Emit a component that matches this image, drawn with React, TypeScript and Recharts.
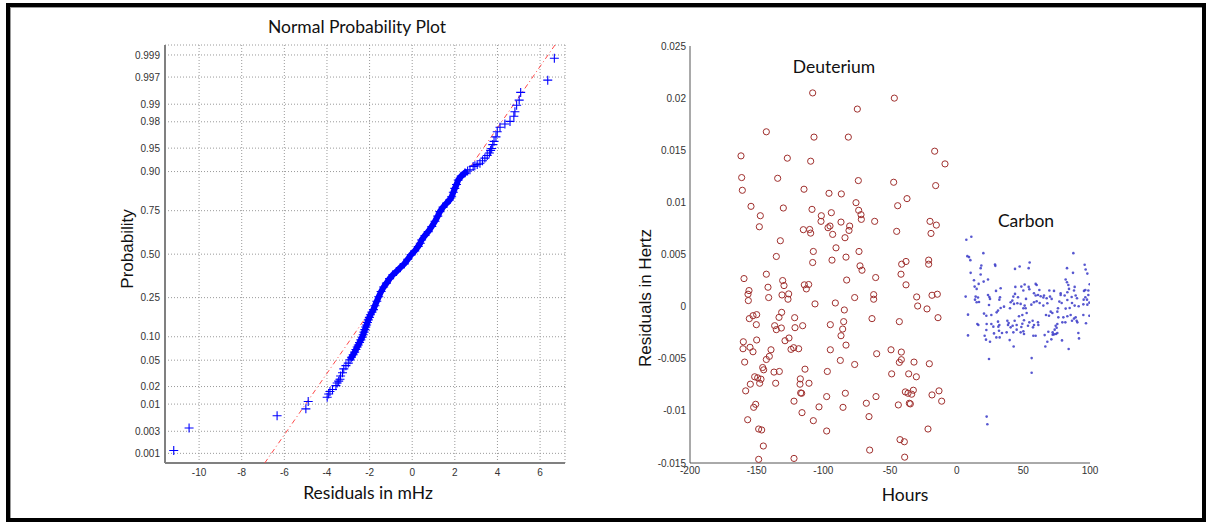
import React from 'react';
import { ScatterChart, Scatter, XAxis, YAxis, CartesianGrid } from 'recharts';

// ---------- Normal probability plot (carbon residuals, mHz) ----------
const probLabels = ['0.001', '0.003', '0.01', '0.02', '0.05', '0.10', '0.25', '0.50', '0.75', '0.90', '0.95', '0.98', '0.99', '0.997', '0.999'];
const residualTicks = [-10, -8, -6, -4, -2, 0, 2, 4, 6];

// [residual mHz, normal score]
const normLowTail: [number, number][] = [
  [-11.19, -3.045], [-10.47, -2.698], [-6.34, -2.507], [-4.99, -2.40], [-4.88, -2.285],
  [-3.99, -2.22], [-3.92, -2.17], [-3.86, -2.13], [-3.74, -2.10], [-3.58, -2.04], [-3.52, -2.0],
  [-3.45, -1.97], [-3.39, -1.94], [-3.36, -1.89], [-3.27, -1.84], [-3.21, -1.78], [-3.11, -1.73], [-3.0, -1.69],
];
const normBand: [number, number][] = [
  [-2.92, -1.64], [-2.85, -1.60], [-2.77, -1.56], [-2.70, -1.52], [-2.64, -1.48], [-2.58, -1.44], [-2.53, -1.41],
  [-2.47, -1.37], [-2.41, -1.33], [-2.35, -1.29], [-2.30, -1.25], [-2.26, -1.21], [-2.22, -1.17], [-2.18, -1.13],
  [-2.14, -1.10], [-2.10, -1.06], [-2.06, -1.02], [-2.01, -0.98], [-1.96, -0.94], [-1.89, -0.90], [-1.82, -0.86],
  [-1.75, -0.80], [-1.66, -0.73], [-1.57, -0.66], [-1.46, -0.58], [-1.34, -0.51], [-1.21, -0.45], [-1.06, -0.38],
  [-0.91, -0.32], [-0.74, -0.27], [-0.56, -0.21], [-0.37, -0.15], [-0.21, -0.08], [-0.05, -0.01],
  [0.12, 0.05], [0.28, 0.12], [0.38, 0.17], [0.44, 0.22], [0.60, 0.29], [0.75, 0.35], [0.92, 0.43], [1.07, 0.51],
  [1.20, 0.59], [1.30, 0.66], [1.45, 0.73], [1.61, 0.79], [1.75, 0.84], [1.85, 0.89], [1.93, 0.96], [2.00, 1.02],
  [2.08, 1.08], [2.16, 1.15], [2.30, 1.21], [2.47, 1.26], [2.60, 1.29],
];
const normHighTail: [number, number][] = [
  [2.71, 1.31], [2.86, 1.36], [2.94, 1.37], [3.05, 1.39], [3.18, 1.41], [3.30, 1.45], [3.41, 1.49], [3.52, 1.53],
  [3.62, 1.57], [3.68, 1.61], [3.73, 1.64], [3.78, 1.70], [3.84, 1.75], [3.93, 1.82], [3.99, 1.90], [4.12, 1.97],
  [4.35, 2.02], [4.59, 2.06], [4.77, 2.14], [4.82, 2.21], [4.90, 2.31], [5.02, 2.39], [5.09, 2.51], [6.36, 2.70], [6.67, 3.04],
];
const fitLineEnds: [number, number][] = [[-6.92, -3.24], [6.70, 3.245]];

// ---------- Residuals vs time ----------
const hourTicks = [-200, -150, -100, -50, 0, 50, 100];
const hertzTicks = [-0.015, -0.01, -0.005, 0, 0.005, 0.01, 0.015, 0.02, 0.025];

// [hours, residual Hz]
const deuterium: [number, number][] = [
  [-108, 0.0205], [-46.75, 0.02], [-74.5, 0.01895], [-142.75, 0.01677], [-107, 0.01626], [-81.25, 0.01626],
  [-161.75, 0.01446], [-16.5, 0.01491], [-127, 0.01424], [-109.5, 0.01395], [-8.75, 0.01369], [-161.25, 0.01238],
  [-134.25, 0.01231], [-73.75, 0.01209], [-47.25, 0.01193], [-15.75, 0.01161], [-160.75, 0.01116], [-114.5, 0.01126],
  [-95.75, 0.01087], [-86.5, 0.01081], [-37.25, 0.01036], [-75.5, 0.00997], [-154.25, 0.00962], [-130, 0.00946],
  [-44.25, 0.00968], [-108.5, 0.00933], [-73.5, 0.00924], [-94, 0.00901], [-147.25, 0.00872], [-101.5, 0.00872],
  [-71.75, 0.00882], [-71.5, 0.00837], [-101.75, 0.00818], [-61.5, 0.00818], [-20, 0.00818], [-86.75, 0.00811],
  [-148, 0.00766], [-95, 0.00773], [-96.5, 0.00757], [-80.25, 0.00773], [-15.25, 0.00782], [-115, 0.00738],
  [-110.25, 0.0074], [-109.5, 0.00705], [-80.75, 0.00731], [-45, 0.00722], [-93, 0.00693], [-19.25, 0.00702],
  [-83.75, 0.00661], [-132.25, 0.00632], [-90.5, 0.00564], [-107.5, 0.00529], [-73.25, 0.00529], [-135.25, 0.00481],
  [-83, 0.00475], [-108, 0.00423], [-93.5, 0.00446], [-38, 0.00433], [-21, 0.00446], [-41.25, 0.00407], [-21, 0.00407],
  [-72.5, 0.00391], [-71, 0.00349], [-41.75, 0.00311], [-142.75, 0.00311], [-159.5, 0.00269], [-130.5, 0.0025],
  [-82.5, 0.00255], [-60.75, 0.00279],
  [-129.5, 0.00202], [-141.5, 0.00186], [-111, 0.00212], [-114.25, 0.00209], [-112.75, 0.0017], [-155.75, 0.00154],
  [-156.5, 0.00119], [-131, 0.00112], [-126, 0.00122], [-141, 0.00087], [-126.5, 0.00071], [-62.25, 0.00115],
  [-62.25, 0.00071], [-38, 0.00209], [-76.5, 0.00087], [-30, 0.00093], [-18.5, 0.00109], [-14.5, 0.00119],
  [-156.25, 0.00058], [-106.25, 0.00026], [-91, 0.00035], [-29.25, 0.00006], [-84.25, -0.00032], [-22.25, -0.00022],
  [-131.25, -0.00055], [-155.5, -0.00115], [-152.75, -0.00087], [-150, -0.00077], [-133.25, -0.00103], [-121.5, -0.00106],
  [-14, -0.00106], [-150.25, -0.00173], [-136.5, -0.00183], [-131.5, -0.00205], [-135.25, -0.00221], [-121.25, -0.00202],
  [-115.5, -0.00183], [-94.75, -0.00173], [-84.75, -0.00144], [-85.5, -0.00215], [-63.5, -0.00115], [-43, -0.00144],
  [-86.75, -0.00279], [-125.75, -0.00301], [-128.75, -0.00327], [-160, -0.00337], [-150, -0.0032], [-160.25, -0.00404],
  [-155, -0.0039], [-152.75, -0.00433], [-139.25, -0.00414], [-124.25, -0.0041], [-122.25, -0.00394], [-118.5, -0.00404],
  [-94.75, -0.00414], [-83, -0.00369], [-49.25, -0.00414], [-41.5, -0.00436], [-60, -0.00452], [-142.75, -0.00507],
  [-140.5, -0.00477], [-159, -0.00532], [-87.25, -0.00516], [-43, -0.00535], [-41.5, -0.00509], [-32, -0.00532],
  [-20.5, -0.00548], [-145.5, -0.00584], [-144.75, -0.00606], [-137, -0.00628], [-133, -0.00622], [-113.75, -0.006],
  [-76.5, -0.00555], [-97, -0.00622], [-151.5, -0.00673], [-149.25, -0.00683], [-146.75, -0.00696], [-154.75, -0.00744],
  [-147.75, -0.00735], [-135.75, -0.00735], [-117.25, -0.00693], [-117.5, -0.00744], [-110.75, -0.00735],
  [-48.75, -0.00645], [-36, -0.00645], [-30.25, -0.00673], [-158.25, -0.00808], [-117, -0.00828], [-116.25, -0.00831],
  [-97.5, -0.00863], [-83.5, -0.00831], [-60.5, -0.00863], [-38.5, -0.00818], [-36.5, -0.00831], [-32.5, -0.00802],
  [-33.75, -0.0084], [-18.5, -0.00847], [-13.25, -0.00808], [-11.25, -0.00907], [-150.75, -0.00937], [-152.25, -0.00966],
  [-122, -0.00907], [-103.25, -0.00962], [-85.25, -0.00966], [-67.75, -0.00927], [-43.75, -0.00943], [-35.5, -0.00927],
  [-34.75, -0.00933], [-116, -0.01017], [-65.75, -0.01055], [-156.75, -0.01085], [-107.5, -0.01094], [-148.5, -0.01174],
  [-146.25, -0.01183], [-97.5, -0.01193], [-21.5, -0.01174], [-145, -0.01337], [-42.5, -0.01276], [-39.25, -0.01296],
  [-65.25, -0.01376], [-148.5, -0.01465], [-122, -0.01456], [-39, -0.01444],
];

const carbon: [number, number][] = [
  [7.25, 0.00641], [11, 0.0067], [20, 0.00513], [8, 0.00484], [9.25, 0.00475], [10.25, 0.00446], [18.5, 0.00394],
  [18, 0.00369], [28.75, 0.00404], [29, 0.00391], [10.5, 0.00324], [18, 0.00308], [43.75, 0.00362], [47.25, 0.00385],
  [54, 0.00369], [54.75, 0.00423], [87.5, 0.00513], [82.75, 0.00369], [87.25, 0.00324], [96, 0.00401], [96.75, 0.00356],
  [98, 0.00317], [13, 0.00253], [16.5, 0.00218], [20.25, 0.0024], [23.5, 0.0026], [13.5, 0.00192], [15, 0.0017],
  [6.75, 0.00096], [14.25, 0.00096], [16, 0.00087], [13.75, 0.00067], [15, 0.00042], [16.75, 0.00045], [23.5, 0.00112],
  [24.5, 0.00093], [25, 0.00074], [29.5, 0.00151], [33, 0.00176], [32.5, 0.0009], [32, 0.00067], [44, 0.00189],
  [48.5, 0.00192], [51, 0.00212], [54, 0.00189], [54.5, 0.00167], [50, 0.00154], [59.25, 0.00218], [60, 0.00208],
  [62, 0.0016], [69.5, 0.00154], [73, 0.00151], [78, 0.00128], [81.75, 0.0026], [82.75, 0.00234], [83.75, 0.00208],
  [84.25, 0.0017], [88.5, 0.00189], [83, 0.00138], [81, 0.00106], [78, 0.00112], [77, 0.00048], [78.75, 0.00035],
  [83, 0.00064], [86.25, 0.00093], [89.25, 0.00106], [88, 0.00154], [90.25, 0.0008], [95.5, 0.00151], [96.5, 0.0016],
  [99.75, 0.00215], [98.75, 0.00154], [98.75, 0.00112], [96.5, 0.0009], [95.25, 0.00067], [97.75, 0.00067],
  [99.5, 0.00038], [98, 0.00019], [95, 0.00022], [91.5, 0.00003], [86.5, 0.00035], [88.5, 0.0001], [84.75, -0.00013],
  [81.75, -0.00019], [58, 0.00128], [59.25, 0.00106], [61, 0.00112], [63, 0.00099], [65.5, 0.00106], [65, 0.00087],
  [67.5, 0.0008], [70, 0.00096], [71.25, 0.00074], [68, 0.00032], [65, 0.0001], [62.25, 0.00035], [60, 0.00051],
  [58, 0.00042], [56, 0.00019], [52, 0.00074], [51, 0.0001], [51.75, -0.00016], [50, -0.00016], [48, 0.00026],
  [45.5, 0.00032], [43, 0.00026], [41.75, 0.00058], [40.5, 0.00042], [42.5, 0.00096], [46, 0.0009], [43.75, 0.00122],
  [40, -0.00016], [35.5, 0], [33, -0.00013], [31, -0.00038], [30, -0.00055], [26, -0.0008], [22.25, -0.00087],
  [20.5, -0.00067], [8.5, -0.00077], [24.25, 0.00016], [15.5, -0.00167], [16.25, -0.00176], [22.5, -0.00167],
  [26, -0.00167], [31, -0.00144], [32, -0.00176], [31.25, -0.00192], [38, -0.00135], [38.5, -0.00176], [39, -0.00157],
  [40.5, -0.00199], [42, -0.00183], [45, -0.00176], [43.5, -0.00135], [46.75, -0.00093], [49.25, -0.0008],
  [52.5, -0.00061], [50.5, -0.00131], [49.25, -0.00164], [48.5, -0.00196], [50, -0.00237], [54.5, -0.00151],
  [57, -0.00135], [58, -0.00176], [61.25, -0.00176], [61, -0.00151], [57.25, -0.00199], [67, -0.0008], [69.25, -0.00087],
  [70.5, -0.00048], [71.75, -0.00061], [76.25, -0.00103], [76, -0.00016], [75.5, -0.00048], [75.5, -0.00167],
  [74.25, -0.00183], [75, -0.00202], [73.5, -0.00221], [72, -0.00247], [72, -0.00269], [73, -0.00266], [74.5, -0.00263],
  [75.5, -0.00253], [79.25, -0.00151], [81.5, -0.00151], [80, -0.00103], [83, -0.00093], [85.5, -0.0008],
  [86.5, -0.00135], [88, -0.00115], [90, -0.00135], [90.5, -0.00151], [89.25, -0.00103], [95, -0.0008], [97, -0.0016],
  [99.5, -0.00087], [91.25, -0.00253], [91.75, -0.00305], [84, -0.00407], [79, -0.00324], [71, -0.00314], [68, -0.00337],
  [66.5, -0.00382], [66, -0.00273], [68.75, -0.00241], [59.25, -0.00279], [57.5, -0.00279], [53.5, -0.00183],
  [50.5, -0.00263], [48, -0.00247], [45, -0.00221], [42.5, -0.00247], [37.5, -0.00247], [34, -0.00253], [31.75, -0.00231],
  [32.25, -0.00295], [29.75, -0.00295], [28, -0.00257], [27.5, -0.00192], [25, -0.00337], [22.25, -0.00224], [21, -0.00279],
  [22, -0.00317], [8.5, -0.00276], [39.75, -0.00321], [42.75, -0.00382], [56.25, -0.00494], [56.25, -0.00635],
  [24.25, -0.00503], [22.5, -0.01055], [23, -0.01129],
];

// inverse standard normal CDF (Acklam) – used for the probability axis scale
function invNorm(p: number): number {
  const a = [-39.69683028665376, 220.9460984245205, -275.9285104469687, 138.357751867269, -30.66479806614716, 2.506628277459239];
  const b = [-54.47609879822406, 161.5858368580409, -155.6989798598866, 66.80131188771972, -13.28068155288572];
  const c = [-0.007784894002430293, -0.3223964580411365, -2.400758277161838, -2.549732539343734, 4.374664141464968, 2.938163982698783];
  const d = [0.007784695709041462, 0.3224671290700398, 2.445134137142996, 3.754408661907416];
  const pl = 0.02425;
  if (p < pl) {
    const q = Math.sqrt(-2 * Math.log(p));
    return (((((c[0] * q + c[1]) * q + c[2]) * q + c[3]) * q + c[4]) * q + c[5]) / ((((d[0] * q + d[1]) * q + d[2]) * q + d[3]) * q + 1);
  }
  if (p > 1 - pl) {
    const q = Math.sqrt(-2 * Math.log(1 - p));
    return -(((((c[0] * q + c[1]) * q + c[2]) * q + c[3]) * q + c[4]) * q + c[5]) / ((((d[0] * q + d[1]) * q + d[2]) * q + d[3]) * q + 1);
  }
  const q = p - 0.5;
  const r = q * q;
  return (((((a[0] * r + a[1]) * r + a[2]) * r + a[3]) * r + a[4]) * r + a[5]) * q / (((((b[0] * r + b[1]) * r + b[2]) * r + b[3]) * r + b[4]) * r + 1);
}

const probTickValues = probLabels.map((l) => invNorm(parseFloat(l)));
const toXY = (arr: [number, number][]) => arr.map(([x, y]) => ({ x, y }));

const Cross = (props: any) => {
  const { cx, cy } = props;
  if (cx == null || cy == null) return <g />;
  return <path d={`M${cx - 4.5},${cy}h9M${cx},${cy - 4.5}v9`} stroke="#0000ff" strokeWidth={1.1} fill="none" />;
};
const Ring = (props: any) => {
  const { cx, cy } = props;
  if (cx == null || cy == null) return <g />;
  return <circle cx={cx} cy={cy} r={3.1} stroke="#a0302e" strokeWidth={1} fill="none" />;
};
const Dot = (props: any) => {
  const { cx, cy } = props;
  if (cx == null || cy == null) return <g />;
  return <circle cx={cx} cy={cy} r={1.3} fill="#3a3ac8" fillOpacity={0.85} />;
};
const Empty = () => <g />;

const tickFont = { fontSize: 10, fill: '#333', fontFamily: '"Liberation Sans", Arial, sans-serif' };
const labelFont: React.CSSProperties = { position: 'absolute', fontFamily: 'Lato, "Open Sans", sans-serif', fontSize: 17.5, color: '#111', whiteSpace: 'nowrap', lineHeight: '18px', transform: 'translate(-50%, -50%)' };
const rotFont: React.CSSProperties = { position: 'absolute', fontFamily: '"Liberation Sans", Arial, sans-serif', fontSize: 17, color: '#111', whiteSpace: 'nowrap', lineHeight: '17px', transform: 'translate(-50%, -50%) rotate(-90deg)' };

export default function App() {
  return (
    <div style={{ position: 'absolute', left: 0, top: 0, width: 1209, height: 522, background: '#fff', overflow: 'hidden' }}>
      <div style={{ position: 'absolute', left: 6, top: 3, width: 1200, height: 519, border: '4px solid #000', boxSizing: 'border-box', boxShadow: 'inset 1px 1px 0 #999' }} />

      <div style={{ position: 'absolute', left: 0, top: 0 }}>
        <ScatterChart width={600} height={522} margin={{ top: 45, right: 35, bottom: 0, left: 0 }}>
          <CartesianGrid stroke="#9a9a9a" strokeDasharray="1 2" />
          <XAxis type="number" dataKey="x" domain={[-11.6, 7.17]} allowDataOverflow ticks={residualTicks} interval={0}
            height={59} tickLine={false} tickSize={0} tickMargin={6} axisLine={{ stroke: '#808080', strokeWidth: 2 }} tick={tickFont} />
          <YAxis type="number" dataKey="y" domain={[-3.24, 3.245]} allowDataOverflow ticks={probTickValues} interval={0}
            tickFormatter={(_v: number, i: number) => probLabels[i]}
            width={165} tickLine={false} tickSize={0} tickMargin={5} axisLine={{ stroke: '#808080', strokeWidth: 2 }} tick={tickFont} />
          <Scatter data={toXY(fitLineEnds)} line={{ stroke: '#ff4a4a', strokeWidth: 1, strokeDasharray: '5 3 1 3' }} shape={Empty} isAnimationActive={false} />
          <Scatter data={toXY(normBand)} line={{ stroke: '#0000ff', strokeWidth: 6 }} shape={Cross} isAnimationActive={false} />
          <Scatter data={toXY(normLowTail)} shape={Cross} isAnimationActive={false} />
          <Scatter data={toXY(normHighTail)} shape={Cross} isAnimationActive={false} />
        </ScatterChart>
      </div>

      <div style={{ position: 'absolute', left: 600, top: 0 }}>
        <ScatterChart width={609} height={522} margin={{ top: 46, right: 119, bottom: 0, left: 0 }}>
          <XAxis type="number" dataKey="x" domain={[-200, 100]} allowDataOverflow ticks={hourTicks} interval={0}
            height={59} tickLine={false} tickSize={0} tickMargin={4} axisLine={{ stroke: '#555', strokeWidth: 1 }} tick={tickFont} />
          <YAxis type="number" dataKey="y" domain={[-0.015, 0.025]} allowDataOverflow ticks={hertzTicks} interval={0}
            width={90} tickLine={false} tickSize={0} tickMargin={4} axisLine={{ stroke: '#555', strokeWidth: 1 }} tick={tickFont} />
          <Scatter data={toXY(deuterium)} shape={Ring} isAnimationActive={false} />
          <Scatter data={toXY(carbon)} shape={Dot} isAnimationActive={false} />
        </ScatterChart>
      </div>

      <div style={{ ...labelFont, left: 357, top: 27 }}>Normal Probability Plot</div>
      <div style={{ ...labelFont, left: 368, top: 493 }}>Residuals in mHz</div>
      <div style={{ ...rotFont, left: 127, top: 249 }}>Probability</div>
      <div style={{ ...labelFont, left: 834, top: 67 }}>Deuterium</div>
      <div style={{ ...labelFont, left: 1026, top: 221 }}>Carbon</div>
      <div style={{ ...rotFont, left: 645, top: 298 }}>Residuals in Hertz</div>
      <div style={{ ...labelFont, left: 905, top: 495 }}>Hours</div>
    </div>
  );
}
